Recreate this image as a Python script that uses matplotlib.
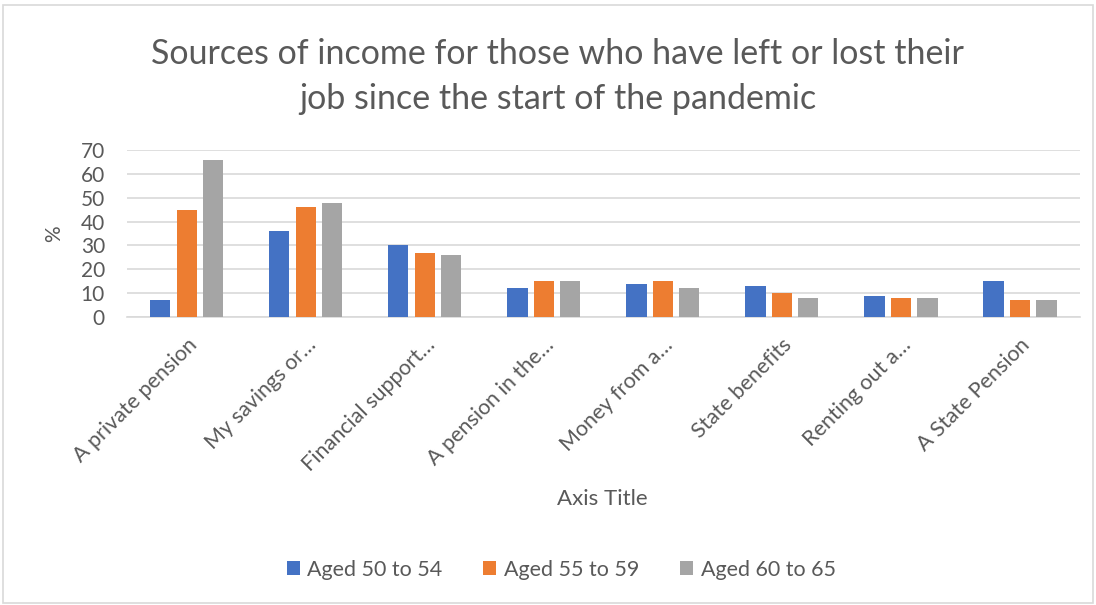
import matplotlib
matplotlib.use("Agg")
import matplotlib.pyplot as plt
import numpy as np
from matplotlib.patches import Rectangle

categories = ["A private pension", "My savings or\u2026", "Financial support\u2026",
              "A pension in the\u2026", "Money from a\u2026", "State benefits",
              "Renting out a\u2026", "A State Pension"]
series_names = ["Aged 50 to 54", "Aged 55 to 59", "Aged 60 to 65"]
aged_50_54 = [7, 36, 30, 12, 14, 13, 9, 15]
aged_55_59 = [45, 46, 27, 15, 15, 10, 8, 7]
aged_60_65 = [66, 48, 26, 15, 12, 8, 8, 7]
yticks = [0, 10, 20, 30, 40, 50, 60, 70]

colors = ["#4472C4", "#ED7D31", "#A5A5A5"]
text_color = "#595959"
plt.rcParams['font.family'] = ['Lato', 'DejaVu Sans']

fig = plt.figure(figsize=(10.96, 6.05), dpi=100)
ax = fig.add_axes([0.116, 0.476, 0.869, 0.276])

x = np.arange(len(categories))
pitch = 0.222
width = 0.17
for i, (vals, name) in enumerate(zip([aged_50_54, aged_55_59, aged_60_65], series_names)):
    ax.bar(x + (i - 1) * pitch, vals, width, color=colors[i], label=name, zorder=3)

ax.set_xlim(-0.5, len(categories) - 0.5)
ax.set_ylim(0, 70)
ax.set_yticks(yticks)
ax.set_yticklabels([str(v) for v in yticks], fontsize=15, color=text_color)
ax.set_xticks(x)
ax.set_xticklabels(categories, rotation=45, ha='right', rotation_mode='anchor',
                   fontsize=15.5, color=text_color)
ax.tick_params(axis='y', length=0, pad=16)
ax.tick_params(axis='x', length=0, pad=13)
ax.grid(axis='y', color='#D9D9D9', linewidth=1.2, zorder=0)
for s in ['top', 'right', 'left']:
    ax.spines[s].set_visible(False)
ax.spines['bottom'].set_color('#D9D9D9')
ax.spines['bottom'].set_linewidth(1.2)
ax.set_ylabel('%', fontsize=15, color=text_color, labelpad=12)

fig.text(0.509, 0.873, "Sources of income for those who have left or lost their\njob since the start of the pandemic",
         ha='center', va='center', fontsize=24.5, color=text_color, linespacing=1.5)
fig.text(0.55, 0.176, "Axis Title", ha='center', va='center', fontsize=16, color=text_color)

leg = fig.legend(loc='center', bbox_to_anchor=(0.512, 0.058), ncol=3, frameon=False,
                 fontsize=15.5, handlelength=0.6, handleheight=0.6, columnspacing=1.9,
                 handletextpad=0.35, labelcolor=text_color)

fig.patches.append(Rectangle((0.003, 0.003), 0.994, 0.989, transform=fig.transFigure,
                             fill=False, edgecolor='#D9D9D9', linewidth=1.2))

fig.savefig("out.png", dpi=100, facecolor='white')
